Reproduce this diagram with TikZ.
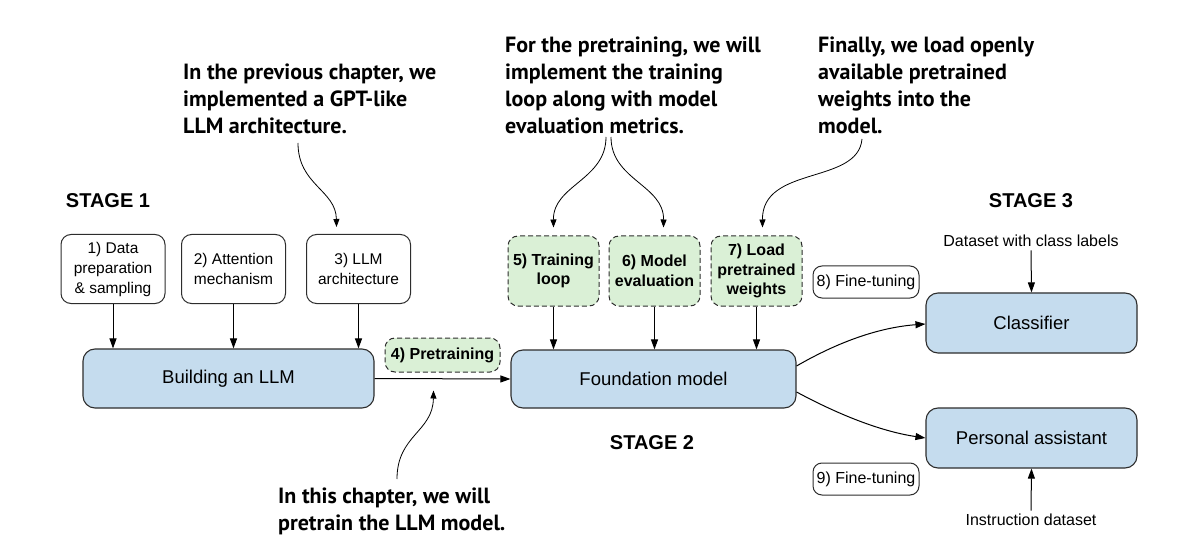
\documentclass[tikz,border=0pt]{standalone}
\usepackage{fontspec}
\setmainfont{Liberation Sans}
\newfontfamily\notefont{PT Sans}
\usetikzlibrary{arrows.meta, positioning, calc}
\definecolor{llmblue}{RGB}{197, 220, 238}
\definecolor{stepgreen}{RGB}{218, 240, 214}
\definecolor{edge}{RGB}{45, 45, 45}
\tikzstyle{model} = [rectangle, rounded corners=12pt, draw=edge, fill=llmblue, line width=1.1pt, text centered, font=\fontsize{18.5}{22}\selectfont]
\tikzstyle{part} = [rectangle, rounded corners=10pt, draw=edge, fill=white, line width=1pt, minimum width=104pt, minimum height=69pt, align=center, font=\fontsize{15.5}{20}\selectfont]
\tikzstyle{green} = [rectangle, rounded corners=10pt, draw=edge, fill=stepgreen, line width=1pt, dash pattern=on 5pt off 3pt, align=center, font=\bfseries\fontsize{16}{19.5}\selectfont]
\tikzstyle{tag} = [rectangle, rounded corners=9pt, draw=edge, fill=white, line width=1pt, minimum width=106pt, minimum height=32pt, font=\fontsize{16}{19}\selectfont]
\tikzstyle{stage} = [font=\bfseries\fontsize{20}{24}\selectfont]
\tikzstyle{note} = [anchor=north west, align=left, inner sep=0pt, font=\notefont\bfseries\fontsize{22}{27}\selectfont]
\tikzstyle{arrow} = [line width=1pt, -{Triangle[length=10pt, width=7pt]}]
\tikzstyle{notearrow} = [line width=0.8pt, -{Triangle[length=8pt, width=6pt]}]

\begin{document}
\begin{tikzpicture}[x=1pt, y=-1pt]
    \useasboundingbox (0, 0) rectangle (1200, 556);

    % Stages
    \node[stage] (stage1) at (108, 201) {STAGE 1};
    \node[stage] (stage2) at (652, 443) {STAGE 2};
    \node[stage] (stage3) at (1031, 201) {STAGE 3};

    % Stage 1 parts
    \node[part] (data) at (113, 269) {1) Data\\preparation\\\& sampling};
    \node[part] (attn) at (233.5, 269) {2) Attention\\mechanism};
    \node[part] (arch) at (358.5, 269) {3) LLM\\architecture};
    \node[model, minimum width=291pt, minimum height=59pt] (llm) at (228.5, 378.5) {Building an LLM};

    % Stage 2 parts
    \node[green, minimum width=115pt, minimum height=34pt] (pre) at (442.5, 355) {4) Pretraining};
    \node[green, minimum width=91pt, minimum height=70pt] (loop) at (553.5, 271) {5) Training\\loop};
    \node[green, minimum width=91pt, minimum height=70pt] (eval) at (654.5, 271) {6) Model\\evaluation};
    \node[green, minimum width=91pt, minimum height=70pt] (load) at (756.5, 271) {7) Load\\pretrained\\weights};
    \node[model, minimum width=285pt, minimum height=58pt] (found) at (653.5, 379) {Foundation model};

    % Stage 3 parts
    \node[tag] (ft8) at (866, 282) {8) Fine-tuning};
    \node[tag] (ft9) at (866, 479) {9) Fine-tuning};
    \node[model, minimum width=211pt, minimum height=60pt] (clf) at (1031.5, 323) {Classifier};
    \node[model, minimum width=211pt, minimum height=60pt] (assist) at (1031.5, 438) {Personal assistant};
    \node[font=\fontsize{16}{19}\selectfont] (labels) at (1031, 241) {Dataset with class labels};
    \node[font=\fontsize{16}{19}\selectfont] (instr) at (1031, 520) {Instruction dataset};

    % Arrows
    \draw[arrow] (data.south) -- (data.south |- llm.north);
    \draw[arrow] (attn.south) -- (attn.south |- llm.north);
    \draw[arrow] (arch.south) -- (arch.south |- llm.north);
    \draw[arrow] (loop.south) -- (loop.south |- found.north);
    \draw[arrow] (eval.south) -- (eval.south |- found.north);
    \draw[arrow] (load.south) -- (load.south |- found.north);
    \draw[arrow] (llm.east) -- (found.west);
    \draw[arrow] ([yshift=13pt]found.east) .. controls (845, 338) and (885, 327) .. ([yshift=-1pt]clf.west);
    \draw[arrow] ([yshift=-13pt]found.east) .. controls (845, 418) and (885, 432) .. ([yshift=0pt]assist.west);
    \draw[arrow] (labels.south) -- (clf.north);
    \draw[arrow] (instr.north) -- (assist.south);

    % Notes
    \node[note] (note1) at (183, 64) {In the previous chapter, we\\implemented a GPT-like\\LLM architecture.};
    \node[note] (note2) at (505, 37) {For the pretraining, we will\\implement the training\\loop along with model\\evaluation metrics.};
    \node[note] (note3) at (818, 37) {Finally, we load openly\\available pretrained\\weights into the\\model.};
    \node[note] (note4) at (278, 488) {In this chapter, we will\\pretrain the LLM model.};

    \coordinate (tail1) at (298, 143);
    \coordinate (tail2a) at (606, 137);
    \coordinate (tail2b) at (611, 137);
    \coordinate (tail3) at (862, 139);
    \coordinate (tail4) at (397, 479);
    \draw[notearrow] (tail1) .. controls (298, 185) and (336, 190) .. ($(arch.north)+(-22, -7)$);
    \draw[notearrow] (tail2a) .. controls (606, 180) and (553, 185) .. ($(loop.north)+(0, -8)$);
    \draw[notearrow] (tail2b) .. controls (611, 180) and (664, 185) .. ($(eval.north)+(9, -8)$);
    \draw[notearrow] (tail3) .. controls (858, 185) and (762, 165) .. ($(load.north)+(6, -8)$);
    \draw[notearrow] (tail4) .. controls (397, 435) and (433, 432) .. ($(pre.south)+(-9, 18)$);
\end{tikzpicture}
\end{document}
